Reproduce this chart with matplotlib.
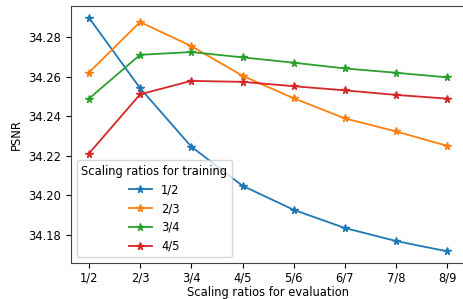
import matplotlib
matplotlib.use("Agg")
import matplotlib.pyplot as plt

eval_ratios = ["1/2", "2/3", "3/4", "4/5", "5/6", "6/7", "7/8", "8/9"]
train_labels = ["1/2", "2/3", "3/4", "4/5"]

psnr_1_2 = [34.2898, 34.2541, 34.2245, 34.2047, 34.1925, 34.1833, 34.1767, 34.1715]
psnr_2_3 = [34.2620, 34.2876, 34.2754, 34.2604, 34.2490, 34.2388, 34.2322, 34.2249]
psnr_3_4 = [34.2488, 34.2710, 34.2724, 34.2697, 34.2670, 34.2641, 34.2619, 34.2596]
psnr_4_5 = [34.2210, 34.2510, 34.2578, 34.2573, 34.2551, 34.2530, 34.2507, 34.2488]
series = [psnr_1_2, psnr_2_3, psnr_3_4, psnr_4_5]

fs = 8.3
plt.rcParams['font.size'] = fs
fig = plt.figure(figsize=(4.63, 2.99), dpi=100)
ax = fig.add_axes([71/463, 1 - 263/299, 394.2/463, (263 - 6)/299])

x = list(range(len(eval_ratios)))
for vals, lab in zip(series, train_labels):
    ax.plot(x, vals, marker='*', markersize=5.5, linewidth=1.3, label=lab)

ax.set_xticks(x)
ax.set_xticklabels(eval_ratios)
ax.set_yticks([34.18, 34.20, 34.22, 34.24, 34.26, 34.28])
ax.tick_params(axis='x', pad=2.5)
ax.set_xlabel("Scaling ratios for evaluation", labelpad=1)
ax.set_ylabel("PSNR")
ax.legend(title="Scaling ratios for training", loc="lower left", fontsize=fs, title_fontsize=fs)
for s in ax.spines.values():
    s.set_color('#444444')

fig.savefig("out.png", dpi=100)
